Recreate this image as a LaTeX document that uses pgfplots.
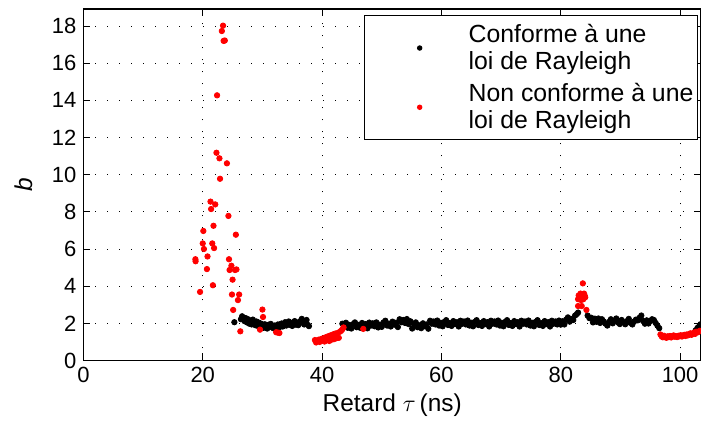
\documentclass[border=0pt]{standalone}
\usepackage{fontspec}
\setmainfont{Liberation Sans}
\usepackage{pgfplots}
\pgfplotsset{compat=1.18}
\begin{document}
\begin{tikzpicture}
\begin{axis}[
  scale only axis,
  width=308.8pt, height=175.6pt,
  xmin=0, xmax=103.5, ymin=0, ymax=18.9,
  xtick={0,20,...,100}, ytick={0,2,...,18},
  /pgf/number format/assume math mode=true,
  tick label style={font=\fontsize{11}{13}\selectfont},
  label style={font=\fontsize{12.2}{14}\selectfont},
  axis line style={line width=0.8pt},
  tick style={line width=0.5pt, black},
  tick align=inside, major tick length=3.5pt,
  grid=major,
  grid style={black, line width=0.5pt, dash pattern=on 0.5pt off 5.5pt},
  xlabel={Retard $\tau\,$(ns)},
  ylabel={\textit{b}},
  xlabel style={at={(axis description cs:0.5,-0.127)}, anchor=center},
  ylabel style={at={(axis description cs:-0.097,0.5)}, anchor=center},
  legend style={at={(axis description cs:1,1)}, xshift=-1.5pt, yshift=-3pt, anchor=north east,
     draw=black, line width=0.6pt, fill=white, inner xsep=0pt, inner ysep=2pt,
     font=\fontsize{12.4}{13.5}\selectfont,
     cells={align=left, anchor=west}, row sep=1.5pt},
  legend image code/.code={\path[draw=none,fill=none] (0pt,0pt) -- (50pt,0pt); \path[#1,draw=none] plot[only marks,mark=*,mark size=1.05pt] coordinates {(27.5pt,0pt)};},
]
\addplot[only marks, mark=*, mark size=1.35pt, mark options={draw=black, fill=black}] coordinates {
(25.3,2.06)(26.4,2.22)(26.6,2.38)(26.8,2.30)(27.0,2.12)(27.2,2.28)(27.4,2.05)(27.6,2.22)(27.8,1.98)(28.0,2.14)
(28.2,1.94)(28.4,2.20)(28.6,2.04)(28.8,1.90)(29.0,2.10)(29.2,1.86)(29.4,2.04)(29.6,1.80)(29.8,1.98)(30.0,1.86)
(30.2,1.76)(30.4,1.95)(30.6,1.82)(30.8,1.72)(31.0,1.92)(31.2,1.80)(31.4,1.97)(31.6,1.85)(31.8,1.74)(32.0,1.88)
(32.2,1.70)(32.4,1.83)(32.6,1.94)(32.8,1.78)(33.0,1.88)(33.2,1.99)(33.4,1.83)(33.6,1.95)(33.8,2.06)(34.0,1.88)
(34.2,1.98)(34.4,2.10)(34.6,1.92)(34.8,2.03)(35.0,1.86)(35.2,1.99)(35.4,2.12)(35.6,1.93)(35.8,2.05)(36.0,1.90)
(36.2,2.01)(36.4,2.12)(36.6,2.24)(36.8,2.04)(37.0,1.94)(37.2,2.10)(37.4,2.18)(37.6,1.92)(37.8,1.85)
(43.4,1.98)(43.7,1.82)(44.0,2.03)(44.3,1.76)(44.6,1.91)(44.9,1.72)(45.2,1.96)(45.5,2.05)(45.8,1.79)(46.1,1.91)
(46.4,1.76)(46.7,2.02)(47.0,1.86)(47.3,1.96)(47.6,1.73)(47.9,2.04)(48.2,1.88)(48.5,2.00)(48.8,1.84)(49.1,2.05)
(49.4,1.78)(49.7,1.93)(50.0,1.81)(50.3,2.05)(50.6,2.14)(50.9,1.88)(51.2,1.98)(51.5,1.83)(51.8,2.09)(52.1,1.93)
(52.4,2.03)(52.7,1.80)(53.0,2.22)(53.3,2.06)(53.6,2.18)(53.9,2.02)(54.2,2.23)(54.5,1.96)(54.8,2.11)(55.1,1.72)
(55.4,1.96)(55.7,2.05)(56.0,1.79)(56.3,1.89)(56.6,1.74)(56.9,2.00)(57.2,1.84)(57.5,1.94)(57.8,1.71)(58.1,2.14)
(58.4,1.98)(58.7,2.10)(59.0,1.94)(59.3,2.15)(59.6,1.88)(59.9,2.03)(60.2,1.84)(60.5,2.08)(60.8,2.17)(61.1,1.91)
(61.4,2.01)(61.7,1.86)(62.0,2.12)(62.3,1.96)(62.6,2.06)(62.9,1.83)(63.2,2.14)(63.5,1.98)(63.8,2.10)(64.1,1.94)
(64.4,2.15)(64.7,1.88)(65.0,2.03)(65.3,1.84)(65.6,2.08)(65.9,2.17)(66.2,1.91)(66.5,2.01)(66.8,1.86)(67.1,2.12)
(67.4,1.96)(67.7,2.06)(68.0,1.83)(68.3,2.14)(68.6,1.98)(68.9,2.10)(69.2,1.94)(69.5,2.15)(69.8,1.88)(70.1,2.03)
(70.4,1.84)(70.7,2.08)(71.0,2.17)(71.3,1.91)(71.6,2.01)(71.9,1.86)(72.2,2.12)(72.5,1.96)(72.8,2.06)(73.1,1.83)
(73.4,2.14)(73.7,1.98)(74.0,2.10)(74.3,1.94)(74.6,2.15)(74.9,1.88)(75.2,2.03)(75.5,1.84)(75.8,2.08)(76.1,2.17)
(76.4,1.91)(76.7,2.01)(77.0,1.86)(77.3,2.12)(77.6,1.96)(77.9,2.06)(78.2,1.83)(78.5,2.14)(78.8,1.98)(79.1,2.10)
(79.4,1.94)(79.7,2.15)(80.0,1.93)(80.3,2.11)(80.6,1.94)(80.9,2.20)(81.2,2.32)(81.5,2.09)(81.8,2.23)(82.1,2.18)
(82.4,2.42)(82.7,2.50)(82.9,2.58)
(84.5,2.42)(84.8,2.28)(85.1,2.30)(85.4,2.05)(85.7,2.25)(86.0,2.08)(86.3,2.26)(86.6,2.02)(86.9,2.22)(87.2,2.10)
(87.5,1.98)(87.8,1.88)(88.1,2.08)(88.4,2.22)(88.7,2.00)(89.0,2.15)(89.3,2.26)(89.6,2.04)(89.9,1.96)(90.2,2.18)
(90.5,2.06)(90.8,1.95)(91.1,2.12)(91.4,2.24)(91.7,2.02)(92.0,1.94)(92.3,2.10)(92.6,2.20)(92.9,2.16)(93.2,2.30)
(93.5,2.42)(93.8,2.12)(94.1,1.98)(94.4,2.16)(94.7,1.99)(95.0,2.12)(95.3,2.22)(95.6,2.18)(95.9,2.02)(96.2,1.88)
(96.5,1.74)
(102.6,1.62)(102.9,1.75)(103.2,1.85)(103.4,1.95)
};
\addlegendentry{Conforme à une\\loi de Rayleigh}
\addplot[only marks, mark=*, mark size=1.35pt, mark options={draw=red, fill=red}] coordinates {
(18.77,5.45)(18.8,5.34)(19.55,3.69)(20.0,6.3)(20.1,6.97)(20.2,6.0)(20.7,4.92)(20.8,5.6)(21.3,8.55)(21.4,8.15)
(21.6,6.3)(21.7,4.05)(21.8,7.25)(21.9,6.05)(22.1,8.4)(22.3,11.18)(22.4,14.27)(22.8,10.88)(22.9,9.78)(23.2,17.73)
(23.4,18.02)(23.5,17.2)(23.7,17.22)(24.05,10.61)(24.3,7.78)(24.4,5.45)(24.5,4.87)(24.8,5.1)(24.9,3.55)(25.0,4.35)
(25.1,2.72)(25.4,4.87)(25.55,6.77)(25.65,4.9)(25.9,3.25)(26.1,3.55)(26.3,1.57)(29.6,1.66)(30.0,2.74)(30.1,2.34)
(32.3,1.52)(32.6,1.50)(32.85,1.48)
(38.8,1.10)(39.0,0.97)(39.2,1.05)(39.4,1.12)(39.6,1.00)(39.8,1.15)(40.0,1.08)(40.2,1.20)(40.4,1.02)(40.6,1.25)
(40.8,1.10)(41.0,1.30)(41.2,1.05)(41.4,1.35)(41.6,1.12)(41.8,1.40)(42.0,1.15)(42.2,1.45)(42.4,1.20)(42.6,1.48)
(42.8,1.22)(43.0,1.55)(43.2,1.60)(43.4,1.68)(43.6,1.78)(46.9,1.70)
(82.9,2.93)(82.9,3.30)(83.0,3.50)(83.3,3.60)(83.4,3.25)(83.5,2.93)(83.6,3.55)(83.7,4.15)(83.8,3.30)(83.9,3.60)
(84.0,3.50)(84.1,3.40)(84.3,2.72)
(96.7,1.40)(96.9,1.30)(97.1,1.25)(97.3,1.33)(97.5,1.27)(97.7,1.22)(97.9,1.30)(98.1,1.26)(98.3,1.32)(98.5,1.24)
(98.7,1.29)(98.9,1.35)(99.1,1.28)(99.3,1.31)(99.5,1.26)(99.7,1.33)(99.9,1.30)(100.1,1.36)(100.3,1.29)(100.5,1.34)
(100.7,1.38)(100.9,1.32)(101.1,1.40)(101.3,1.35)(101.5,1.42)(101.7,1.46)(101.9,1.38)(102.1,1.45)(102.3,1.50)(102.5,1.43)
(102.7,1.55)(103.0,1.52)(103.3,1.60)
};
\addlegendentry{Non conforme à une\\loi de Rayleigh}
\end{axis}
\pgfresetboundingbox
\path[use as bounding box] ([xshift=-41.7pt,yshift=-33.25pt]current axis.south west) rectangle ([yshift=4.65pt]current axis.north east);
\end{tikzpicture}
\end{document}
